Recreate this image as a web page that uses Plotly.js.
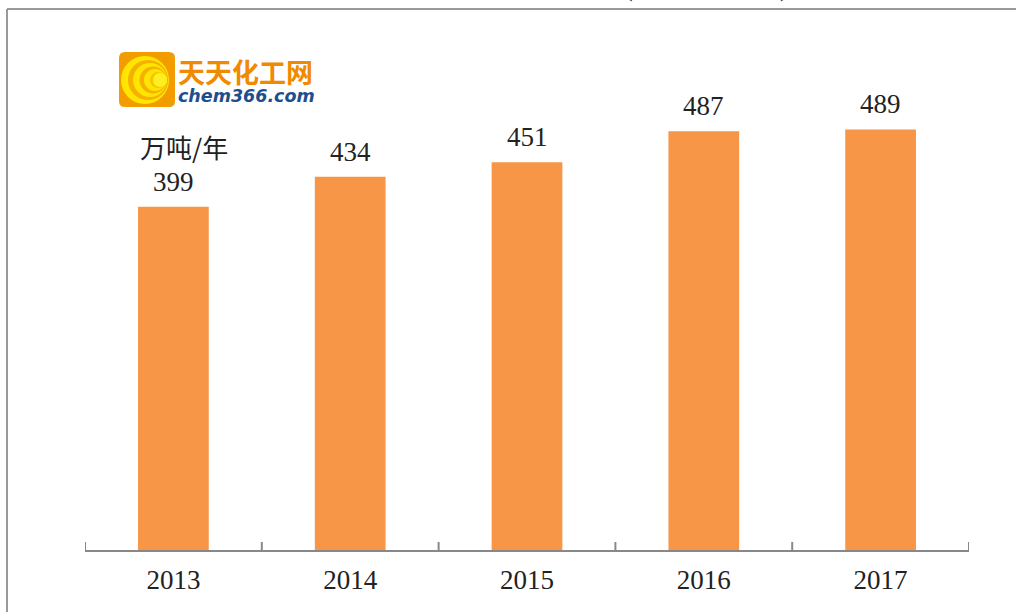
<!DOCTYPE html>
<html>
<head>
<meta charset="utf-8">
<script src="https://cdn.plot.ly/plotly-3.0.1.min.js"></script>
<style>html,body{margin:0;padding:0;background:#fff;}#chart{width:1016px;height:612px;}</style>
</head>
<body>
<div id="chart"></div>
<script>
// Data
const years = ['2013', '2014', '2015', '2016', '2017'];
const capacity = [399, 434, 451, 487, 489];
const unitLabel = '万吨/年';
const logoCn = '天天化工网';
const logoEn = 'chem366.com';

// layout geometry
const W = 1016, H = 612;
const M = {l: 85, r: 47, t: 34, b: 62};
const PW = W - M.l - M.r, PH = H - M.t - M.b;
const px = x => (x - M.l) / PW;
const py = y => (H - M.b - y) / PH;

const serif = '"Liberation Serif", "Times New Roman", serif';
const cjk = '"Noto Sans CJK SC", sans-serif';

const idx = years.map((_, i) => i);

const trace = {
  type: 'bar',
  x: idx,
  y: capacity,
  marker: {color: '#F79646'},
  width: 0.4,
  hoverinfo: 'y'
};

const annotations = capacity.map((v, i) => ({
  x: idx[i], y: v, xref: 'x', yref: 'y',
  text: String(v), showarrow: false,
  yanchor: 'middle', yshift: 25,
  font: {family: serif, size: 27, color: '#222'}
}));

annotations.push({
  xref: 'paper', yref: 'paper', x: px(184), y: py(146),
  text: unitLabel, showarrow: false, xanchor: 'center', yanchor: 'middle',
  font: {family: cjk, size: 26, color: '#222'}
});
// cut-off title parentheses at the very top
annotations.push({
  xref: 'paper', yref: 'paper', x: px(628), y: py(4),
  text: '(', showarrow: false, xanchor: 'center', yanchor: 'bottom',
  font: {family: serif, size: 26, color: '#222'}
});
annotations.push({
  xref: 'paper', yref: 'paper', x: px(784), y: py(4),
  text: ')', showarrow: false, xanchor: 'center', yanchor: 'bottom',
  font: {family: serif, size: 26, color: '#222'}
});
// logo texts
annotations.push({
  xref: 'paper', yref: 'paper', x: px(177), y: py(71),
  text: '<b>' + logoCn + '</b>', showarrow: false, xanchor: 'left', yanchor: 'middle',
  borderpad: 0, font: {family: cjk, size: 27, color: '#F08A00'}
});
annotations.push({
  xref: 'paper', yref: 'paper', x: px(177), y: py(96),
  text: '<b><i>' + logoEn + '</i></b>', showarrow: false, xanchor: 'left', yanchor: 'middle',
  borderpad: 0, font: {family: '"DejaVu Sans", sans-serif', size: 17.5, color: '#1E4E8F'}
});

function circ(cx, cy, r, color) {
  return {type: 'circle', xref: 'paper', yref: 'paper', layer: 'above',
    x0: px(cx - r), x1: px(cx + r), y0: py(cy + r), y1: py(cy - r),
    fillcolor: color, line: {width: 0}};
}
function roundRect(x0, y0, x1, y1, r) {
  const X = v => px(v), Y = v => py(v);
  return `M${X(x0 + r)},${Y(y0)} L${X(x1 - r)},${Y(y0)} Q${X(x1)},${Y(y0)} ${X(x1)},${Y(y0 + r)} ` +
    `L${X(x1)},${Y(y1 - r)} Q${X(x1)},${Y(y1)} ${X(x1 - r)},${Y(y1)} L${X(x0 + r)},${Y(y1)} ` +
    `Q${X(x0)},${Y(y1)} ${X(x0)},${Y(y1 - r)} L${X(x0)},${Y(y0 + r)} Q${X(x0)},${Y(y0)} ${X(x0 + r)},${Y(y0)} Z`;
}

const shapes = [
  // outer frame (left and top edges visible)
  {type: 'line', xref: 'paper', yref: 'paper', x0: px(7), x1: px(7), y0: py(9), y1: py(620),
    line: {color: '#999', width: 2}},
  {type: 'line', xref: 'paper', yref: 'paper', x0: px(7), x1: px(1030), y0: py(9), y1: py(9),
    line: {color: '#999', width: 2}},
  // logo
  {type: 'path', xref: 'paper', yref: 'paper', layer: 'above', path: roundRect(119, 52, 175, 107, 6),
    fillcolor: '#F39C00', line: {width: 0}},
  circ(145, 80, 24, '#FFE500'),
  circ(148, 80, 20, '#F5B000'),
  circ(150, 80, 17, '#FFE500'),
  circ(153, 80, 13.5, '#F5B000'),
  circ(155, 80, 11, '#FFE500'),
  circ(158, 80, 8, '#F7C400'),
  circ(160, 80, 7, '#FFEF20')
];
// boundary ticks of the category axis (pointing up from the axis line)
for (let i = 0; i <= years.length; i++) {
  shapes.push({type: 'line', xref: 'x', yref: 'paper', x0: i - 0.5, x1: i - 0.5,
    y0: 0, y1: py(542), line: {color: '#888', width: 2}});
}

const layout = {
  width: W, height: H,
  margin: M,
  paper_bgcolor: '#fff', plot_bgcolor: '#fff',
  showlegend: false,
  xaxis: {
    range: [-0.5, years.length - 0.5],
    tickmode: 'array', tickvals: idx, ticktext: years,
    showline: true, linecolor: '#888', linewidth: 2,
    ticks: '', showgrid: false, zeroline: false,
    tickfont: {family: serif, size: 27, color: '#222'},
    ticklabelstandoff: 5,
    tickangle: 0, fixedrange: true
  },
  yaxis: {
    range: [0, 600], visible: false, showgrid: false, zeroline: false, fixedrange: true
  },
  annotations: annotations,
  shapes: shapes
};

Plotly.newPlot('chart', [trace], layout, {displayModeBar: false, staticPlot: true});
</script>
</body>
</html>
